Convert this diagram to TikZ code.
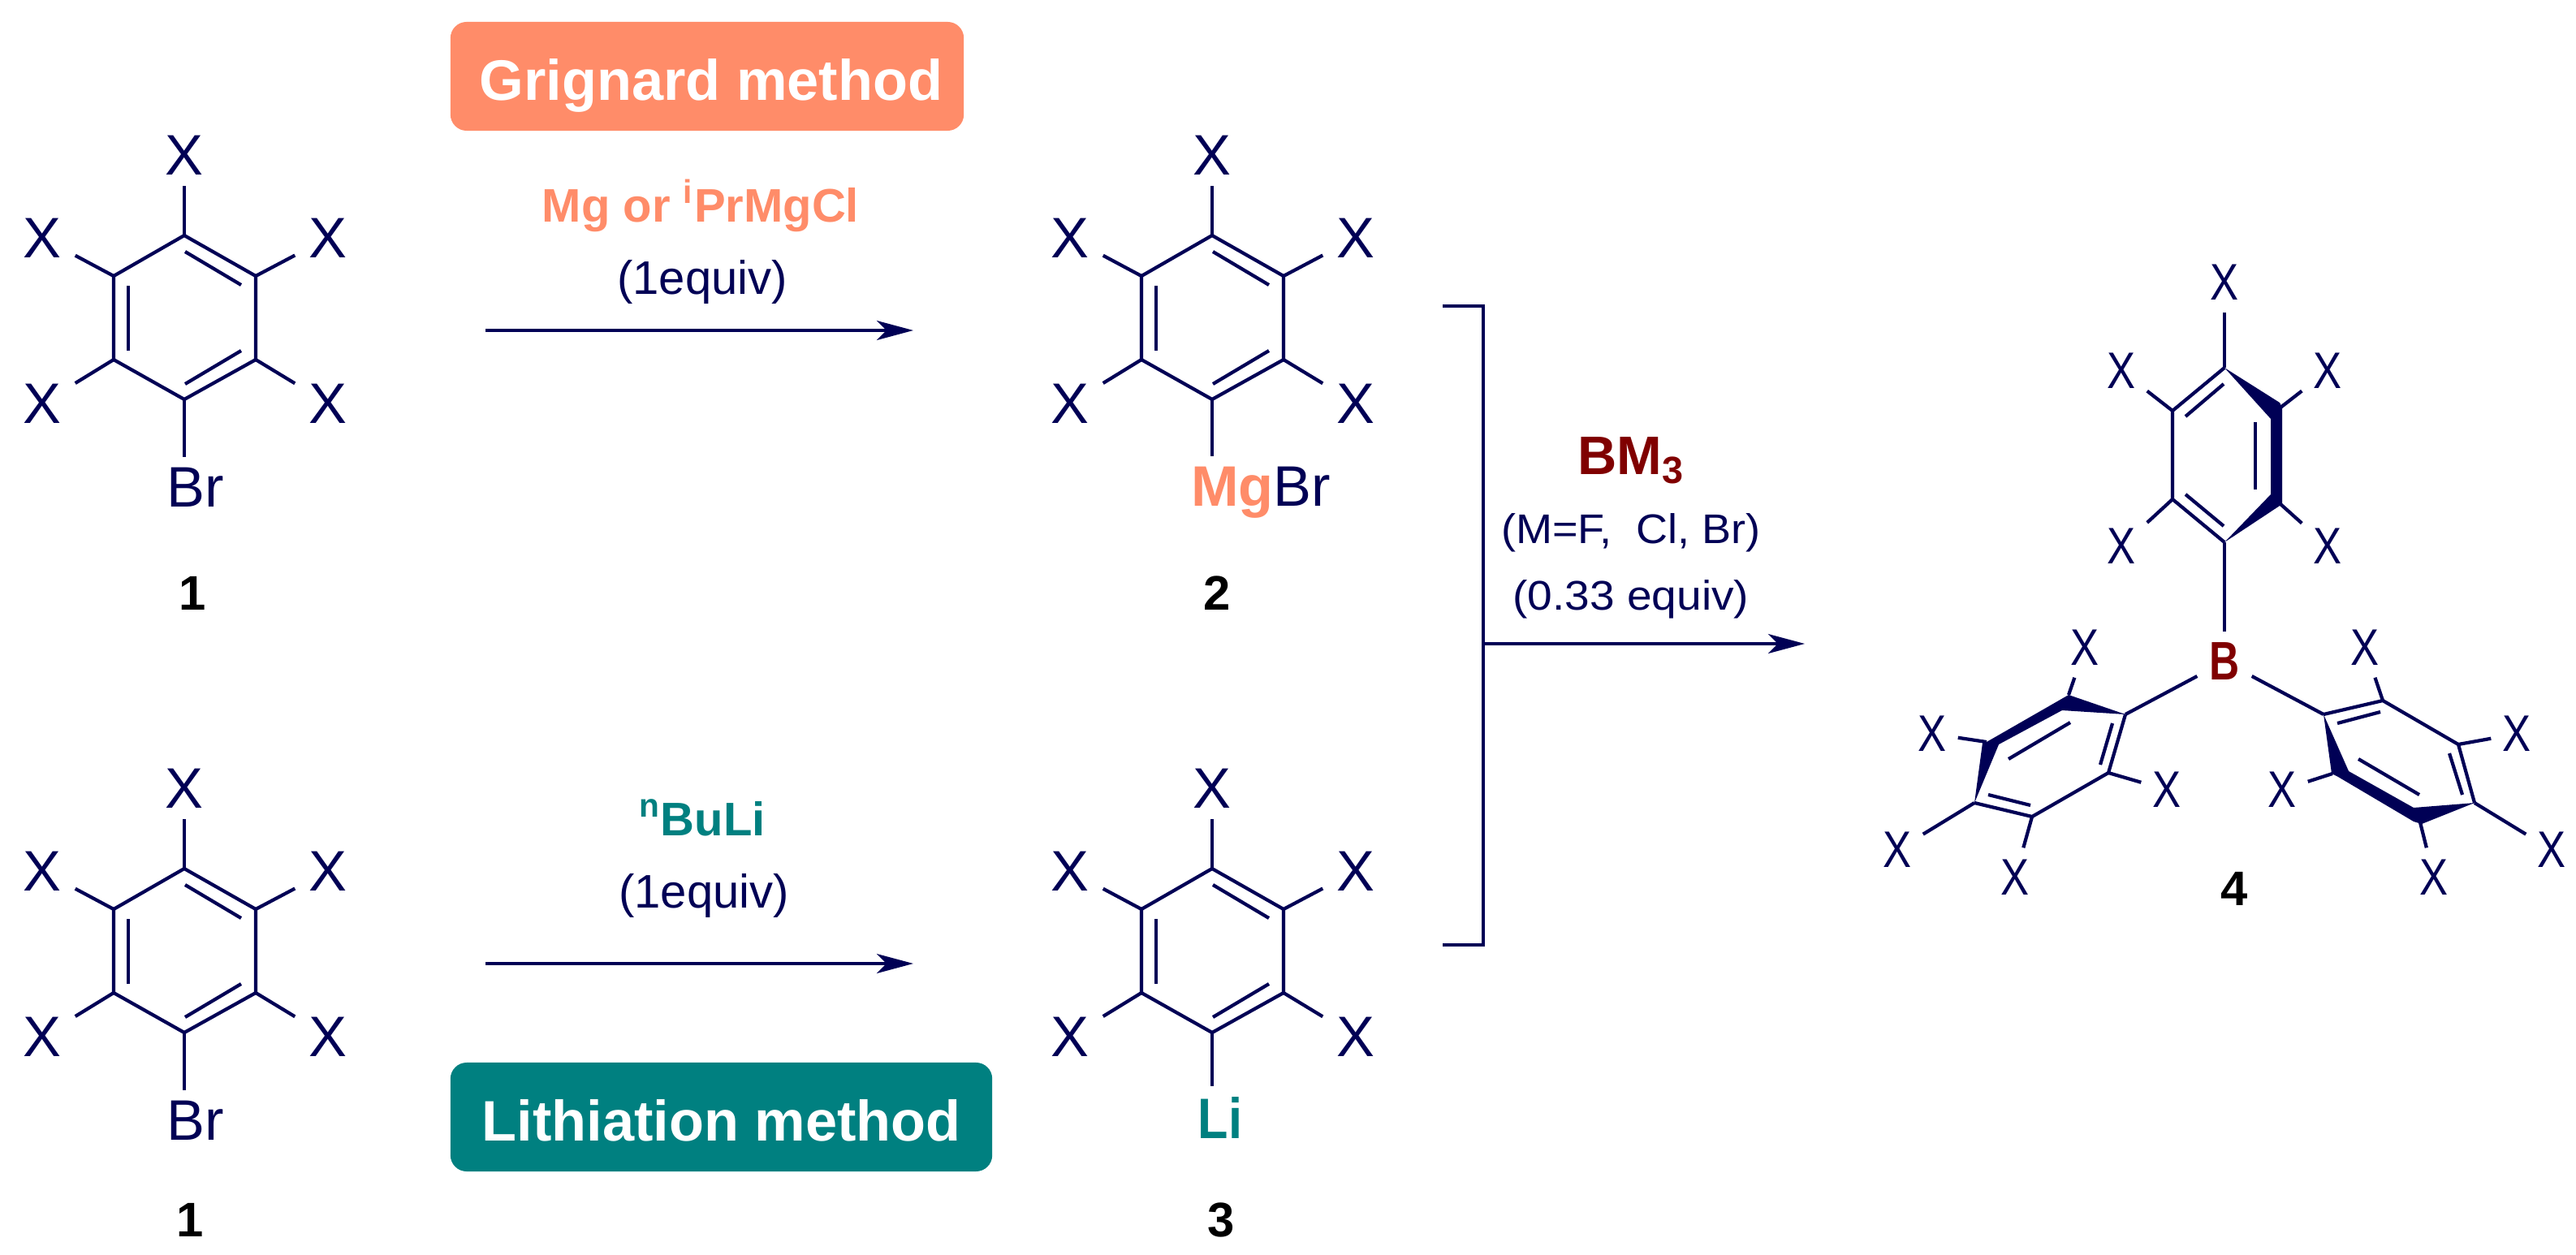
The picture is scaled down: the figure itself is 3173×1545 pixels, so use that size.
\documentclass[tikz,border=0pt]{standalone}
\usepackage{fontspec}
\setmainfont{Liberation Sans}
\usepackage{tikz}
\usetikzlibrary{positioning,calc,arrows.meta}

\definecolor{inkblue}{HTML}{000055}
\definecolor{grignard}{HTML}{FF8C69}
\definecolor{lithium}{HTML}{008080}
\definecolor{boron}{HTML}{800000}

\tikzset{
	bond/.style={draw=inkblue,line width=1.2pt},
	rxn/.style={draw=inkblue,line width=1.2pt,-{Stealth[length=12.8pt,width=6.8pt,inset=3.4pt]}},
	xatom/.style={font=\fontsize{20}{24}\selectfont,text=inkblue,inner sep=0pt,minimum width=.8cm,minimum height=.75cm},
	xthin/.style={font=\fontsize{18}{22}\selectfont,text=inkblue,inner sep=0pt,xscale=.83,transform shape,minimum width=.75cm,minimum height=.72cm},
	subst/.style={font=\fontsize{20}{24}\selectfont,text=inkblue,inner xsep=0pt,inner ysep=.12cm,anchor=base},
	cmpd/.style={font=\fontsize{17}{20}\selectfont\bfseries,text=black,inner sep=0pt,anchor=base},
	reagent/.style={font=\fontsize{16.5}{20}\selectfont,inner sep=0pt,anchor=base},
	method/.style={font=\fontsize{20}{24}\selectfont\bfseries,text=white,rounded corners=.2cm,inner sep=0pt,
		text height=.96cm,text depth=.38cm,anchor=base},
}

% ring with five X, sixth position is free
\newcommand{\arene}[3]{
	\begin{scope}[shift={(#2,#3)}]
		\foreach \v/\a/\b in {a/0/-101,b/88/-51,c/88/52,d/0/101,e/-87/52,f/-87/-51}
			\coordinate (#1\v) at (\a,\b);
		\draw[bond] (#1a) -- (#1b) -- (#1c) -- (#1d) -- (#1e) -- (#1f) -- cycle;
		% inner lines
		\draw[bond] (1,-81) -- (70,-40);
		\draw[bond] (70,41) -- (1,82);
		\draw[bond] (-69,-39) -- (-69,41);
		\foreach \v/\a/\b in {a/0/-200,b/177/-98,c/177/106,e/-175/106,f/-175/-98}{
			\node[xatom] (#1x\v) at (\a,\b) {X};
			\draw[bond] (#1\v) -- (#1x\v);
		}
	\end{scope}
}

\begin{document}
\begin{tikzpicture}[x=0.01cm,y=-0.01cm]
	\useasboundingbox (0,0) rectangle (3173,1545);

	\arene{ra}{227}{391}
	\arene{rb}{227}{1171}
	\arene{rc}{1493}{391}
	\arene{rd}{1493}{1171}

	% free positions
	\node[subst] (bra) at (241,624) {Br};
	\node[subst] (brb) at (241,1404) {Br};
	\node[subst] (mgbr) at (1553,623) {\textcolor{grignard}{\bfseries Mg}Br};
	\node[subst,text=lithium,xscale=.87,transform shape] (li) at (1503,1402) {\bfseries Li};
	\draw[bond] (rad) -- (rad |- bra.north);
	\draw[bond] (rbd) -- (rbd |- brb.north);
	\draw[bond] (rcd) -- (rcd |- mgbr.north);
	\draw[bond] (rdd) -- (rdd |- li.north);

	\node[cmpd] (onea) at (237,751) {1};
	\node[cmpd] (oneb) at (234,1523) {1};
	\node[cmpd] (two) at (1499,751) {2};
	\node[cmpd] (three) at (1504,1523) {3};
	\node[cmpd] (four) at (2752,1115) {4};

	% methods
	\node[method,fill=grignard,minimum width=6.32cm] (grig) at (871,123) {\kern.1cm Grignard method};
	\node[method,fill=lithium,minimum width=6.67cm] (lith) at (888.5,1405) {Lithiation method};

	\node[reagent,text=grignard] (mg) at (863,273) {\bfseries Mg or \textsuperscript{i}PrMgCl};
	\node[reagent,text=inkblue] (eqa) at (865,362) {(1equiv)};
	\node[reagent,text=lithium] (buli) at (865,1029) {\bfseries \textsuperscript{n}BuLi};
	\node[reagent,text=inkblue] (eqb) at (867,1118) {(1equiv)};

	\coordinate (arA) at (598,407);
	\coordinate (arB) at (1125,407);
	\coordinate (arC) at (598,1187);
	\coordinate (arD) at (1125,1187);
	\draw[rxn] (arA) -- (arB);
	\draw[rxn] (arC) -- (arD);

	% bracket
	\coordinate (brkA) at (1777,377);
	\coordinate (brkB) at (1827,377);
	\coordinate (brkC) at (1827,1164);
	\coordinate (brkD) at (1777,1164);
	\coordinate (brkM) at (1827,793);
	\coordinate (brkE) at (2223,793);
	\draw[bond] (brkA) -- (brkB) -- (brkC) -- (brkD);
	\draw[rxn] (brkM) -- (brkE);

	\node[inner sep=0pt,anchor=base,font=\fontsize{19}{22}\selectfont\bfseries,text=boron] (bm) at (2009,584) {BM\textsubscript{3}};
	\node[reagent,text=inkblue,font=\fontsize{14.5}{18}\selectfont,xscale=1.06,transform shape] (mf) at (2009,669) {(M=F,\ \ Cl, Br)};
	\node[reagent,text=inkblue,font=\fontsize{14.5}{18}\selectfont,xscale=1.08,transform shape] (eqc) at (2009,751) {(0.33 equiv)};

	% product
	\node[font=\fontsize{19}{22}\selectfont\bfseries,text=boron,inner sep=0pt,xscale=.77,transform shape,minimum width=.86cm,minimum height=.72cm] (boronB) at (2740,815) {B};

	% top ring
	\coordinate (ta) at (2740,668);
	\coordinate (tb) at (2676,615);
	\coordinate (tc) at (2676,506);
	\coordinate (td) at (2740,453);
	\coordinate (te) at (2809,502);
	\coordinate (tf) at (2809,621);
	\draw[bond] (ta) -- (tb) -- (tc) -- (td);
	\fill[inkblue] (td) -- (2808,496) -- (2811,502) -- (2811,621) -- (ta) -- (2797,609) -- (2797,516) -- cycle;
	\draw[bond] (2692,513) -- (2739,473);
	\draw[bond] (2692,609) -- (2739,648);
	\draw[bond] (2778,520) -- (2778,603);
	\node[xthin] (xtb) at (2613,673) {X};
	\node[xthin] (xtc) at (2613,457) {X};
	\node[xthin] (xtd) at (2740,348) {X};
	\node[xthin] (xte) at (2867,457) {X};
	\node[xthin] (xtf) at (2867,673) {X};
	\draw[bond] (tb) -- (xtb);
	\draw[bond] (tc) -- (xtc);
	\draw[bond] (td) -- (xtd);
	\draw[bond] (te) -- (xte);
	\draw[bond] (tf) -- (xtf);
	\draw[bond] (ta) -- (boronB);

	% left ring
	\coordinate (la) at (2618,880);
	\coordinate (lb) at (2548,856);
	\coordinate (lc) at (2447,914);
	\coordinate (ld) at (2432,989);
	\coordinate (le) at (2503,1006);
	\coordinate (lf) at (2597,952);
	\draw[bond] (ld) -- (le) -- (lf) -- (la);
	\fill[inkblue] (lb) -- (la) -- (2540,875) -- (2462,917) -- (ld) -- (2442,915) -- (lc) -- cycle;
	\draw[bond] (2550,890) -- (2474,935);
	\draw[bond] (2602,891) -- (2587,942);
	\draw[bond] (2449,979) -- (2501,992);
	\node[xthin] (xlb) at (2568,798) {X};
	\node[xthin] (xlc) at (2380,904) {X};
	\node[xthin] (xld) at (2337,1047) {X};
	\node[xthin] (xle) at (2482,1081) {X};
	\node[xthin] (xlf) at (2669,973) {X};
	\draw[bond] (lb) -- (xlb);
	\draw[bond] (lc) -- (xlc);
	\draw[bond] (ld) -- (xld);
	\draw[bond] (le) -- (xle);
	\draw[bond] (lf) -- (xlf);
	\draw[bond] (la) -- (boronB);

	% right ring
	\coordinate (ua) at (2862,880);
	\coordinate (ub) at (2935,863);
	\coordinate (uc) at (3028,917);
	\coordinate (ud) at (3048,989);
	\coordinate (ue) at (2981,1013);
	\coordinate (uf) at (2873,953);
	\draw[bond] (ua) -- (ub) -- (uc) -- (ud);
	\fill[inkblue] (ua) -- (2893,950) -- (2973,995) -- (ud) -- (2983,1015) -- (2973,1012) -- (2880,957) -- (2872,953) -- cycle;
	\draw[bond] (2879,891) -- (2932,877);
	\draw[bond] (3017,928) -- (3033,979);
	\draw[bond] (2905,935) -- (2980,979);
	\node[xthin] (xub) at (2913,798) {X};
	\node[xthin] (xuc) at (3100,904) {X};
	\node[xthin] (xud) at (3143,1047) {X};
	\node[xthin] (xue) at (2998,1081) {X};
	\node[xthin] (xuf) at (2811,973) {X};
	\draw[bond] (ub) -- (xub);
	\draw[bond] (uc) -- (xuc);
	\draw[bond] (ud) -- (xud);
	\draw[bond] (ue) -- (xue);
	\draw[bond] (uf) -- (xuf);
	\draw[bond] (ua) -- (boronB);
\end{tikzpicture}
\end{document}
